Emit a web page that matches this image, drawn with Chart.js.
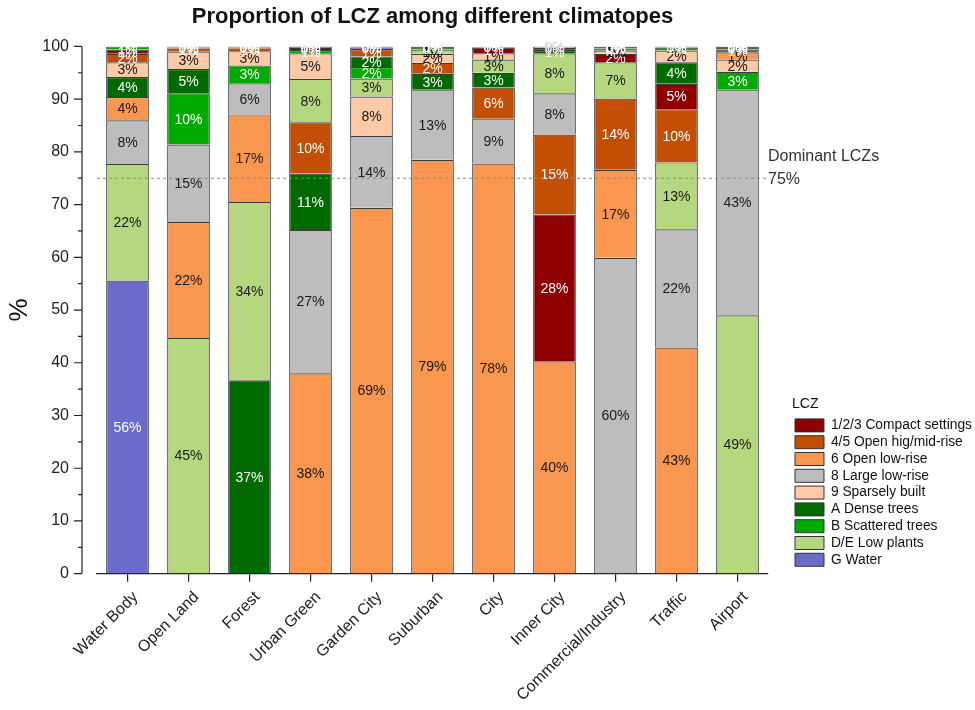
<!DOCTYPE html>
<html>
<head>
<meta charset="utf-8">
<script src="https://cdn.jsdelivr.net/npm/chart.js@4.4.1/dist/chart.umd.min.js"></script>
<style>
  body { margin: 0; background: #fff; }
  #wrap { width: 975px; height: 710px; position: relative; }
</style>
</head>
<body>
<div id="wrap"><canvas id="lcz-chart"></canvas></div>
<script>
// Climatopes (x categories)
const climatopes = ['Water Body', 'Open Land', 'Forest', 'Urban Green', 'Garden City', 'Suburban',
  'City', 'Inner City', 'Commercial/Industry', 'Traffic', 'Airport'];

// LCZ shares in % per climatope
const compact     = [0.8, 0.2, 0.2, 0.4, 0.2, 0.2, 1.1, 27.8, 1.6, 4.8, 0.2];
const openHighMid = [1.6, 0.6, 0.5, 9.7, 1.4, 2.1, 5.9, 15.2, 13.5, 10.1, 0.5];
const openLow     = [4.4, 22.0, 16.6, 38.0, 69.4, 78.5, 77.8, 40.3, 16.7, 42.9, 1.4];
const largeLow    = [8.3, 14.7, 5.9, 27.2, 13.6, 13.3, 8.5, 7.8, 59.9, 22.4, 42.8];
const sparse      = [2.8, 3.3, 2.7, 4.9, 7.5, 1.7, 1.2, 0.2, 0.6, 2.2, 2.3];
const denseTrees  = [3.8, 4.6, 36.7, 10.7, 2.0, 3.0, 2.8, 0.6, 0.4, 4.1, 0.3];
const scattered   = [0.6, 9.7, 3.4, 0.6, 2.2, 0.3, 0.1, 0.4, 0.3, 0.6, 3.4];
const lowPlants   = [22.1, 44.7, 33.8, 8.2, 3.4, 0.8, 2.5, 7.6, 6.9, 12.7, 49.0];
const water       = [55.6, 0.2, 0.2, 0.3, 0.3, 0.1, 0.0, 0.1, 0.1, 0.2, 0.1];

const lczNames = ['1/2/3 Compact settings', '4/5 Open hig/mid-rise', '6 Open low-rise', '8 Large low-rise',
  '9 Sparsely built', 'A Dense trees', 'B Scattered trees', 'D/E Low plants', 'G Water'];
const lczValues = [compact, openHighMid, openLow, largeLow, sparse, denseTrees, scattered, lowPlants, water];
const lczColors = ['#8e0000', '#c24f05', '#f99650', '#bdbdbd', '#fccaa7', '#006a00', '#00aa00', '#b5d77f', '#6b6bcc'];
const lczWhiteText = [true, true, false, false, false, true, true, false, true];

const dominantLine = 75;
const FONT = '"Liberation Sans", Arial, sans-serif';
const Y_AXIS_GAP = 15;   // y axis sits a bit left of the first bar slot (Origin style)

// Each bar is stacked largest share at the bottom, so build one dataset per rank
function buildRankDatasets() {
    const n = lczNames.length;
    const sets = [];
    for (let r = 0; r < n; r++) {
        sets.push({ data: [], backgroundColor: [], lczIdx: [], borderColor: '#3c3c3c', borderWidth: 1.2,
            barPercentage: 0.7, categoryPercentage: 1.0 });
    }
    climatopes.forEach((c, i) => {
        const order = lczValues.map((v, k) => k).sort((a, b) => lczValues[b][i] - lczValues[a][i]);
        order.forEach((k, r) => {
            sets[r].data.push(lczValues[k][i]);
            sets[r].backgroundColor.push(lczColors[k]);
            sets[r].lczIdx.push(k);
        });
    });
    return sets;
}

const segmentLabels = {
    id: 'segmentLabels',
    afterDatasetsDraw(chart) {
        const ctx = chart.ctx;
        ctx.save();
        ctx.font = '14px ' + FONT;
        ctx.textAlign = 'center';
        ctx.textBaseline = 'middle';
        chart.data.datasets.forEach((ds, r) => {
            chart.getDatasetMeta(r).data.forEach((bar, i) => {
                const k = ds.lczIdx[i];
                ctx.fillStyle = lczWhiteText[k] ? '#ffffff' : '#1a1a1a';
                ctx.fillText(Math.round(ds.data[i]) + '%', bar.x, (bar.y + bar.base) / 2 + 1);
            });
        });
        ctx.restore();
    }
};

const dominantMarker = {
    id: 'dominantMarker',
    afterDatasetsDraw(chart) {
        const ctx = chart.ctx;
        const area = chart.chartArea;
        const y = chart.scales.y.getPixelForValue(dominantLine);
        ctx.save();
        ctx.strokeStyle = '#8a8a8a';
        ctx.lineWidth = 1;
        ctx.setLineDash([3, 3]);
        ctx.beginPath();
        ctx.moveTo(area.left, y);
        ctx.lineTo(area.right, y);
        ctx.stroke();
        ctx.setLineDash([]);
        ctx.fillStyle = '#333';
        ctx.font = '16px ' + FONT;
        ctx.textAlign = 'left';
        ctx.textBaseline = 'middle';
        ctx.fillText('Dominant LCZs', area.right, y - 22);
        ctx.fillText(dominantLine + '%', area.right, y + 1);
        ctx.restore();
    }
};

// y axis line with major/minor ticks, drawn a little left of the plot area
const offsetYAxis = {
    id: 'offsetYAxis',
    afterDraw(chart) {
        const ctx = chart.ctx;
        const ys = chart.scales.y;
        const x0 = chart.chartArea.left - Y_AXIS_GAP;
        ctx.save();
        ctx.strokeStyle = '#222';
        ctx.lineWidth = 1.2;
        ctx.beginPath();
        ctx.moveTo(x0, ys.getPixelForValue(ys.max));
        ctx.lineTo(x0, ys.getPixelForValue(ys.min));
        for (let v = ys.min; v <= ys.max; v += 5) {
            const len = v % 10 === 0 ? 8 : 4;
            const py = ys.getPixelForValue(v);
            ctx.moveTo(x0 - len, py);
            ctx.lineTo(x0, py);
        }
        ctx.stroke();
        ctx.restore();
    }
};

const chart = new Chart(document.getElementById('lcz-chart'), {
    type: 'bar',
    data: { labels: climatopes, datasets: buildRankDatasets() },
    options: {
        responsive: true,
        maintainAspectRatio: false,
        animation: false,
        layout: { padding: { left: 4, right: 17, top: 2, bottom: -1 } },
        scales: {
            x: {
                stacked: true,
                grid: { display: true, offset: false, drawOnChartArea: false, drawTicks: true, tickLength: 8,
                    color: '#222', lineWidth: 1.2 },
                border: { display: true, color: '#222', width: 1.2 },
                ticks: { minRotation: 45, maxRotation: 45, color: '#222', padding: 6, labelOffset: 8,
                    font: { size: 16, family: FONT } }
            },
            y: {
                stacked: true,
                min: 0, max: 100,
                afterFit: (scale) => { scale.width = 93; },
                grid: { display: true, drawOnChartArea: false, drawTicks: true, tickLength: 8, color: 'rgba(0,0,0,0)' },
                border: { display: false },
                ticks: { stepSize: 10, color: '#222', padding: Y_AXIS_GAP + 5,
                    font: { size: 16, family: FONT } },
                title: { display: true, text: '%', color: '#111', padding: { top: 0, bottom: 4 },
                    font: { size: 26, family: FONT } }
            }
        },
        plugins: {
            title: {
                display: true,
                fullSize: false,
                text: 'Proportion of LCZ among different climatopes',
                color: '#111',
                font: { size: 22, weight: 'bold', family: FONT },
                padding: { top: 2, bottom: 16 }
            },
            legend: {
                position: 'right',
                align: 'end',
                fullSize: false,
                title: { display: true, text: 'LCZ', position: 'start', color: '#111', padding: 1.5,
                    font: { size: 14, family: FONT } },
                labels: {
                    boxWidth: 29, boxHeight: 13, padding: 3, color: '#111',
                    font: { size: 13.8, family: FONT },
                    generateLabels: () => lczNames.map((name, k) => ({
                        text: name, fillStyle: lczColors[k], strokeStyle: '#333', lineWidth: 1,
                        hidden: false, datasetIndex: 0
                    }))
                },
                onClick: () => {}
            },
            tooltip: { enabled: false }
        }
    },
    plugins: [segmentLabels, dominantMarker, offsetYAxis]
});

// the legend sits a bit further right of the plot and slightly higher than Chart.js places it
const legendBox = chart.legend;
const drawLegend = legendBox.draw.bind(legendBox);
legendBox.draw = function (area) {
    chart.ctx.save();
    chart.ctx.translate(24, -4);
    drawLegend(area);
    chart.ctx.restore();
};
chart.update();
</script>
</body>
</html>
